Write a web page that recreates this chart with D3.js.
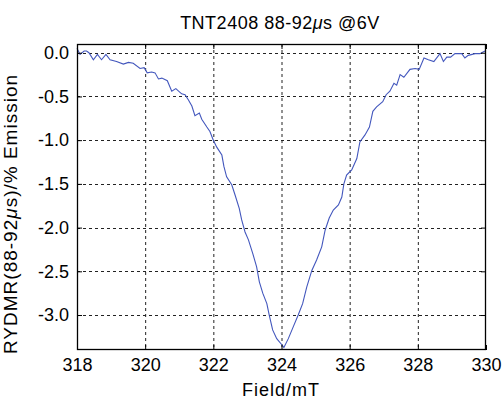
<!DOCTYPE html>
<html><head><meta charset="utf-8">
<script src="https://cdn.jsdelivr.net/npm/d3@7"></script>
<style>body{margin:0;background:#fff}svg{display:block}text{font-family:"Liberation Sans",Arial,sans-serif;fill:#000}</style>
</head><body><svg id="c" width="502" height="400"></svg>
<script>
const field = [318.0,318.09,318.21,318.28,318.35,318.48,318.60,318.72,318.85,318.97,319.16,319.36,319.51,319.65,319.85,319.97,320.06,320.19,320.29,320.39,320.49,320.65,320.78,320.90,321.07,321.17,321.27,321.37,321.46,321.59,321.66,321.81,321.90,322.00,322.10,322.25,322.31,322.39,322.54,322.64,322.76,322.83,322.93,323.03,323.16,323.27,323.35,323.45,323.57,323.64,323.74,323.86,324.01,324.07,324.20,324.35,324.49,324.62,324.74,324.89,325.03,325.18,325.28,325.40,325.52,325.67,325.77,325.83,325.91,326.06,326.21,326.30,326.45,326.58,326.68,326.79,326.97,327.07,327.18,327.30,327.38,327.48,327.59,327.77,327.92,328.04,328.18,328.31,328.47,328.65,328.75,328.85,328.96,329.09,329.29,329.38,329.48,329.68,329.82,329.97];
const signal = [0.05,-0.02,0.02,0.02,0.0,-0.08,-0.02,-0.08,-0.02,-0.08,-0.10,-0.13,-0.11,-0.12,-0.18,-0.17,-0.23,-0.22,-0.23,-0.30,-0.29,-0.32,-0.44,-0.41,-0.47,-0.48,-0.54,-0.61,-0.72,-0.69,-0.76,-0.85,-0.90,-1.00,-1.08,-1.17,-1.30,-1.42,-1.51,-1.63,-1.78,-1.91,-2.05,-2.14,-2.30,-2.45,-2.62,-2.75,-2.87,-3.00,-3.17,-3.27,-3.34,-3.37,-3.27,-3.13,-3.00,-2.87,-2.68,-2.49,-2.37,-2.22,-2.03,-1.89,-1.80,-1.74,-1.65,-1.50,-1.40,-1.34,-1.21,-1.02,-0.94,-0.85,-0.67,-0.62,-0.56,-0.48,-0.44,-0.35,-0.37,-0.25,-0.28,-0.19,-0.18,-0.19,-0.06,-0.08,-0.10,-0.01,-0.10,-0.05,-0.05,-0.01,-0.01,-0.06,-0.03,-0.01,-0.01,0.02];
const xTicks = [318,320,322,324,326,328,330];
const yTicks = [0,-0.5,-1.0,-1.5,-2.0,-2.5,-3.0];
const titleText = ["TNT2408 88-92", "μ", "s @6V"];
const yLabelText = ["RYDMR(88-92", "μ", "s)/% Emission"];
const xLabelText = "Field/mT";

const L=77,R=486,T=44,B=350;
const svg=d3.select("#c");
const x=d3.scaleLinear().domain([318,330]).range([L,R]);
const y=d3.scaleLinear().domain([-3.4,0.1]).range([B,T]);
const fmt=v=>v.toFixed(1);

// grid
const g=svg.append("g");
g.selectAll(".gx").data(xTicks.slice(1,-1)).join("line").attr("x1",d=>x(d)+0.5).attr("x2",d=>x(d)+0.5).attr("y1",T).attr("y2",B)
 .attr("stroke","#222").attr("stroke-dasharray","3,3");
g.selectAll(".gy").data(yTicks).join("line").attr("y1",d=>Math.round(y(d))+0.5).attr("y2",d=>Math.round(y(d))+0.5).attr("x1",L).attr("x2",R)
 .attr("stroke","#222").attr("stroke-dasharray","3,3");

// line
svg.append("path").datum(field.map((f,i)=>[f,signal[i]]))
 .attr("d",d3.line().x(d=>x(d[0])).y(d=>y(d[1])))
 .attr("fill","none").attr("stroke","#4357bd").attr("stroke-width",1.1);

// axes
const fs=18;
const ax=svg.append("g").attr("transform",`translate(0,${B})`).call(d3.axisBottom(x).tickValues(xTicks).tickFormat(d=>d).tickSizeInner(-5).tickSizeOuter(0).tickPadding(8));
const axT=svg.append("g").attr("transform",`translate(0,${T})`).call(d3.axisTop(x).tickValues(xTicks).tickFormat("").tickSizeInner(-5).tickSizeOuter(0));
const ay=svg.append("g").attr("transform",`translate(${L},0)`).call(d3.axisLeft(y).tickValues(yTicks).tickFormat(fmt).tickSizeInner(-5).tickSizeOuter(0).tickPadding(8));
const ayR=svg.append("g").attr("transform",`translate(${R},0)`).call(d3.axisRight(y).tickValues(yTicks).tickFormat("").tickSizeInner(-5).tickSizeOuter(0));
[ax,axT,ay,ayR].forEach(a=>{a.select(".domain").remove();a.selectAll("line").attr("stroke","#000");a.selectAll("text").attr("font-size",fs).attr("font-family",null).attr("fill","#000");});
ax.selectAll("text").attr("dy","0.71em");

// frame
svg.append("rect").attr("x",L+0.5).attr("y",T+0.5).attr("width",R-L-1).attr("height",B-T-1).attr("fill","none").attr("stroke","#000").attr("stroke-width",1.3);

function addText(parts,attrs,size,ls){
  const t=svg.append("text").attr("font-size",size).attr("text-anchor","middle").attr("letter-spacing",ls);
  Object.entries(attrs).forEach(([k,v])=>t.attr(k,v));
  parts.forEach((p,i)=>t.append("tspan").text(p).attr("font-style",i===1?"italic":null));
  return t;
}
addText(titleText,{x:280,y:29},18,0.5);
addText([xLabelText],{x:281,y:396},18,1);
addText(yLabelText,{transform:"translate(17,214) rotate(-90)"},19,1);
</script></body></html>
